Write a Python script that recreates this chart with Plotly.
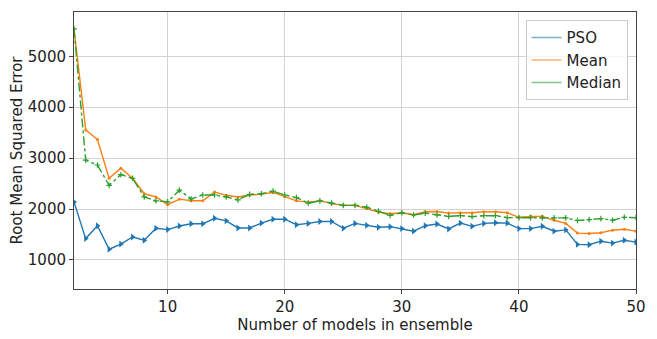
import plotly.graph_objects as go

n_models = list(range(2, 51))

pso = [2137, 1420, 1673, 1211, 1312, 1452, 1388, 1623, 1597, 1667,
       1711, 1711, 1819, 1768, 1629, 1629, 1724, 1800, 1800, 1692,
       1718, 1756, 1756, 1623, 1718, 1680, 1642, 1654, 1616, 1566,
       1673, 1705, 1610, 1724, 1661, 1718, 1730, 1724, 1616, 1616,
       1661, 1566, 1591, 1306, 1300, 1369, 1331, 1388, 1350]

mean = [5540, 3555, 3365, 2605, 2802, 2605, 2300, 2238, 2086, 2194,
        2162, 2162, 2333, 2270, 2238, 2275, 2294, 2326, 2244, 2161,
        2136, 2161, 2111, 2073, 2073, 2009, 1940, 1908, 1927, 1889,
        1946, 1952, 1921, 1927, 1927, 1946, 1946, 1927, 1838, 1857,
        1857, 1781, 1718, 1528, 1521, 1534, 1585, 1604, 1566]

median = [5540, 2960, 2865, 2466, 2675, 2605, 2238, 2162, 2143, 2371,
          2200, 2276, 2276, 2238, 2181, 2288, 2301, 2352, 2276, 2225,
          2117, 2161, 2117, 2073, 2073, 2035, 1959, 1876, 1927, 1883,
          1920, 1883, 1857, 1870, 1851, 1870, 1870, 1832, 1832, 1832,
          1826, 1826, 1826, 1775, 1794, 1813, 1781, 1838, 1832]

BLUE, ORANGE, GREEN = "#1f77b4", "#ff7f0e", "#2ca02c"
FONT = "DejaVu Sans"
TXT = "#222222"

fig = go.Figure()

fig.add_trace(go.Scatter(
    x=n_models, y=pso, mode="lines+markers", showlegend=False,
    line=dict(color=BLUE, width=1.4),
    marker=dict(symbol="triangle-right", size=6, color=BLUE)))
fig.add_trace(go.Scatter(
    x=n_models, y=mean, mode="lines+markers", showlegend=False,
    line=dict(color=ORANGE, width=1.4),
    marker=dict(symbol="circle", size=3, color=ORANGE)))
fig.add_trace(go.Scatter(
    x=n_models, y=median, mode="lines+markers", showlegend=False,
    line=dict(color=GREEN, width=1.4, dash="dashdot"),
    marker=dict(symbol="cross-thin", size=4, color=GREEN,
                line=dict(color=GREEN, width=1.2))))

# legend entries: plain line handles
for name, col in [("PSO", "rgba(31,119,180,0.6)"),
                  ("Mean", "rgba(255,127,14,0.6)"),
                  ("Median", "rgba(44,160,44,0.6)")]:
    fig.add_trace(go.Scatter(x=[None], y=[None], mode="lines", name=name,
                             line=dict(color=col, width=1.5)))

axis_common = dict(
    showgrid=True, gridcolor="#d3d3d3", gridwidth=1,
    showline=True, linecolor="#444444", linewidth=1, mirror=True,
    ticks="outside", ticklen=4, tickcolor="#444444",
    tickfont=dict(family=FONT, size=15, color=TXT),
    zeroline=False,
)

fig.update_xaxes(range=[2, 50], tickvals=[10, 20, 30, 40, 50],
                 title=dict(text="Number of models in ensemble",
                            font=dict(family=FONT, size=15, color=TXT),
                            standoff=1),
                 **axis_common)
fig.update_yaxes(range=[430, 5870], tickvals=[1000, 2000, 3000, 4000, 5000],
                 title=dict(text="Root Mean Squared Error",
                            font=dict(family=FONT, size=15, color=TXT),
                            standoff=1),
                 **axis_common)

fig.update_layout(
    width=657, height=339,
    margin=dict(l=74, r=15, t=11, b=42),
    plot_bgcolor="white", paper_bgcolor="white",
    font=dict(family=FONT, size=15, color=TXT),
    legend=dict(x=0.985, y=0.97, xanchor="right", yanchor="top",
                bgcolor="rgba(255,255,255,0.8)", bordercolor="#cccccc",
                borderwidth=1, font=dict(family=FONT, size=15, color=TXT),
                itemwidth=30, tracegroupgap=0),
)

fig.write_html("out.html")
